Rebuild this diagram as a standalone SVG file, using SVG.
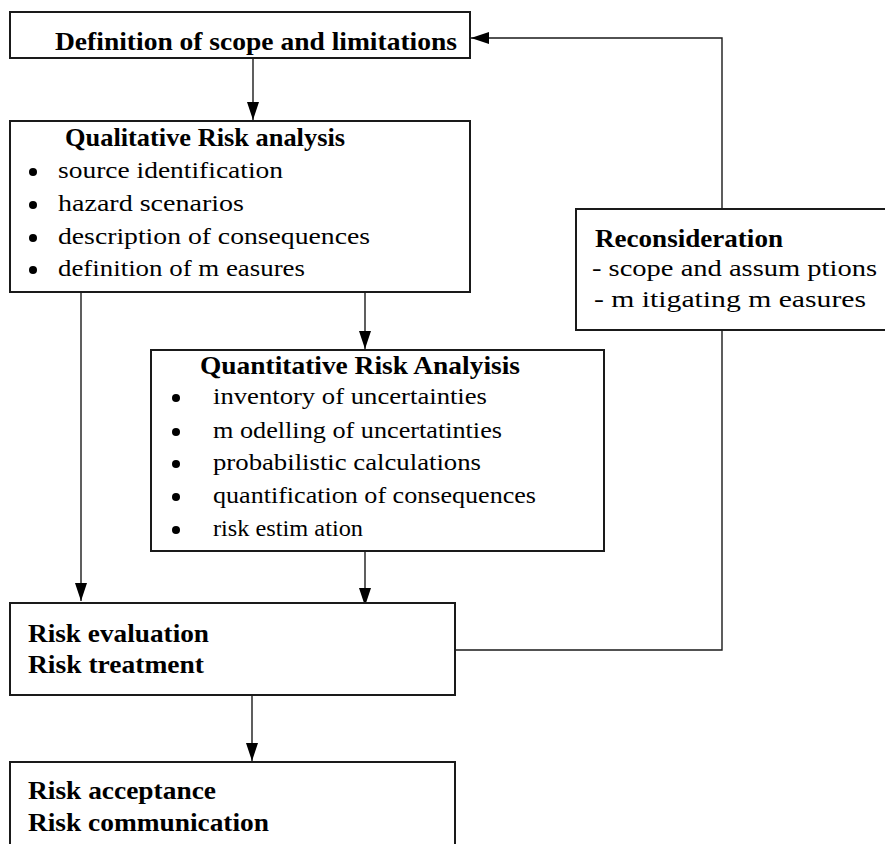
<svg xmlns="http://www.w3.org/2000/svg" width="885" height="844" viewBox="0 0 885 844">
<style>
.box{fill:#fff;stroke:#1a1a1a;stroke-width:2}
.t{font-family:"Liberation Serif","Times New Roman",serif;font-weight:bold;fill:#000}
.b{font-family:"Liberation Serif","Times New Roman",serif;font-size:24px;fill:#000}
.c{fill:none;stroke:#1a1a1a;stroke-width:1.4}
</style>
<defs>
<marker id="ah" viewBox="0 0 18 12" refX="18" refY="6" markerWidth="18" markerHeight="12" markerUnits="userSpaceOnUse" orient="auto">
<path d="M0,0 L18,6 L0,12 Z" fill="#000"/>
</marker>
</defs>
<rect width="885" height="844" fill="#fff"/>
<g id="connectors">
<line class="c" x1="253" y1="58" x2="253" y2="120" marker-end="url(#ah)"/>
<line class="c" x1="365" y1="292" x2="365" y2="349" marker-end="url(#ah)"/>
<line class="c" x1="81" y1="292" x2="81" y2="601" marker-end="url(#ah)"/>
<line class="c" x1="365" y1="551" x2="365" y2="606" marker-end="url(#ah)"/>
<line class="c" x1="252" y1="695" x2="252" y2="761" marker-end="url(#ah)"/>
<polyline class="c" points="455,650 722,650 722,330"/>
<polyline class="c" points="722,209 722,38 471,38" marker-end="url(#ah)"/>
</g>
<g id="scope">
<rect class="box" x="10" y="12" width="460" height="46"/>
<text class="t" x="55" y="50" font-size="26" textLength="402" lengthAdjust="spacingAndGlyphs">Definition of scope and limitations</text>
</g>
<g id="qualitative">
<rect class="box" x="10" y="121" width="460" height="171"/>
<text class="t" x="65" y="146" font-size="25" textLength="280" lengthAdjust="spacingAndGlyphs">Qualitative Risk analysis</text>
<circle cx="33" cy="172" r="4"/>
<text class="b" x="58" y="178" textLength="225" lengthAdjust="spacingAndGlyphs">source identification</text>
<circle cx="33" cy="205" r="4"/>
<text class="b" x="58" y="211" textLength="186" lengthAdjust="spacingAndGlyphs">hazard scenarios</text>
<circle cx="33" cy="238" r="4"/>
<text class="b" x="58" y="244" textLength="312" lengthAdjust="spacingAndGlyphs">description of consequences</text>
<circle cx="33" cy="270" r="4"/>
<text class="b" x="58" y="276" textLength="247" lengthAdjust="spacingAndGlyphs">definition of m easures</text>
</g>
<g id="quantitative">
<rect class="box" x="151" y="350" width="453" height="201"/>
<text class="t" x="200" y="374" font-size="25" textLength="320" lengthAdjust="spacingAndGlyphs">Quantitative Risk Analyisis</text>
<circle cx="176" cy="398" r="4"/>
<text class="b" x="213" y="404" textLength="274" lengthAdjust="spacingAndGlyphs">inventory of uncertainties</text>
<circle cx="176" cy="432" r="4"/>
<text class="b" x="213" y="438" textLength="289" lengthAdjust="spacingAndGlyphs">m odelling of uncertatinties</text>
<circle cx="176" cy="464" r="4"/>
<text class="b" x="213" y="470" textLength="268" lengthAdjust="spacingAndGlyphs">probabilistic calculations</text>
<circle cx="176" cy="497" r="4"/>
<text class="b" x="213" y="503" textLength="323" lengthAdjust="spacingAndGlyphs">quantification of consequences</text>
<circle cx="176" cy="530" r="4"/>
<text class="b" x="213" y="536" textLength="150" lengthAdjust="spacingAndGlyphs">risk estim ation</text>
</g>
<g id="reconsideration">
<rect class="box" x="576" y="209" width="312" height="121"/>
<text class="t" x="595" y="247" font-size="25" textLength="188" lengthAdjust="spacingAndGlyphs">Reconsideration</text>
<text class="b" x="592" y="276" textLength="285" lengthAdjust="spacingAndGlyphs">- scope and assum ptions</text>
<text class="b" x="594" y="307" textLength="272" lengthAdjust="spacingAndGlyphs">- m itigating m easures</text>
</g>
<g id="evaluation">
<rect class="box" x="10" y="603" width="445" height="92"/>
<text class="t" x="28" y="642" font-size="26" textLength="181" lengthAdjust="spacingAndGlyphs">Risk evaluation</text>
<text class="t" x="28" y="673" font-size="26" textLength="176" lengthAdjust="spacingAndGlyphs">Risk treatment</text>
</g>
<g id="acceptance">
<rect class="box" x="10" y="762" width="445" height="100"/>
<text class="t" x="28" y="799" font-size="26" textLength="188" lengthAdjust="spacingAndGlyphs">Risk acceptance</text>
<text class="t" x="28" y="831" font-size="26" textLength="241" lengthAdjust="spacingAndGlyphs">Risk communication</text>
</g>
</svg>
